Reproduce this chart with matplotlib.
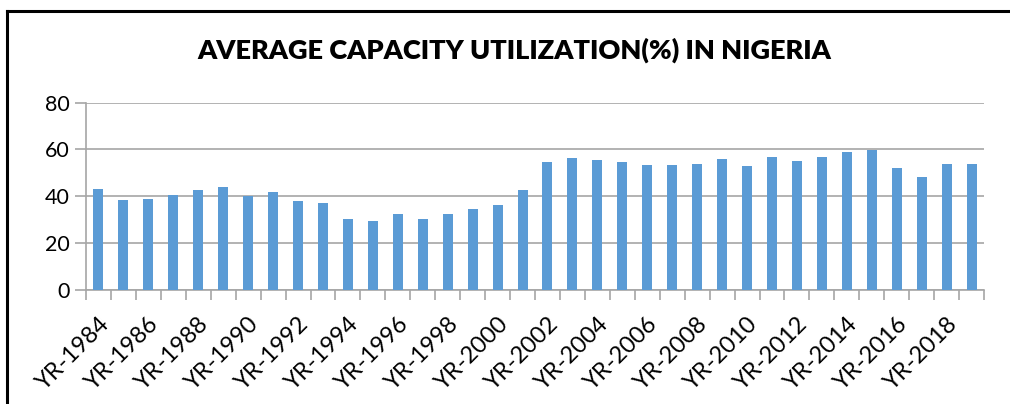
import matplotlib.pyplot as plt
from matplotlib.lines import Line2D
import numpy as np

years = list(range(1984, 2020))
labels = ['YR-%d' % y for y in years]
capacity = [43.0, 38.2, 38.8, 40.4, 42.5, 43.8, 40.2, 41.9, 38.1, 37.2,
            30.4, 29.2, 32.5, 30.4, 32.2, 34.5, 36.1, 42.8, 54.8, 56.3,
            55.6, 54.8, 53.3, 53.3, 53.9, 55.8, 52.8, 56.9, 54.9, 56.9,
            58.8, 59.9, 51.9, 48.1, 53.9, 53.9]

plt.rcParams['font.family'] = ['Lato', 'DejaVu Sans']

W, H = 1010, 404
fig = plt.figure(figsize=(W / 100, H / 100), dpi=100)
ax = fig.add_axes([86 / W, 1 - 289.5 / H, (984 - 86) / W, (289.5 - 102.7) / H])

x = np.arange(len(years))
ax.bar(x, capacity, width=0.4, color='#5B9BD5', zorder=3)

ax.set_xlim(-0.5, len(years) - 0.5)
ax.set_ylim(0, 80)
ax.set_yticks([0, 20, 40, 60, 80])
ax.yaxis.grid(True, color='#a6a6a6', linewidth=1.2, zorder=0)

# category boundary ticks
ax.set_xticks(np.arange(len(years) + 1) - 0.5, minor=True)
ax.set_xticks(x[::2])
ax.set_xticklabels(labels[::2], rotation=45, ha='right', va='top',
                   rotation_mode='anchor', fontsize=17)
ax.tick_params(axis='x', which='major', length=0, pad=17)
ax.tick_params(axis='x', which='minor', length=7, color='#a6a6a6', width=1.2)
ax.tick_params(axis='y', length=8, color='#a6a6a6', width=1.2, labelsize=15.5, pad=4)

for s in ['top', 'right']:
    ax.spines[s].set_visible(False)
for s in ['left', 'bottom']:
    ax.spines[s].set_color('#a6a6a6')
    ax.spines[s].set_linewidth(1.2)

fig.text(514 / W, 1 - 50 / H, 'AVERAGE CAPACITY UTILIZATION(%) IN NIGERIA',
         ha='center', va='center', fontsize=19.5, fontweight='heavy')

# chart frame
fig.add_artist(Line2D([7 / W, 7 / W], [0, 1 - 10.5 / H], transform=fig.transFigure,
                      color='black', linewidth=2.2))
fig.add_artist(Line2D([7 / W, 1], [1 - 10.5 / H, 1 - 10.5 / H], transform=fig.transFigure,
                      color='black', linewidth=2.2))

fig.savefig('out.png', dpi=100)
